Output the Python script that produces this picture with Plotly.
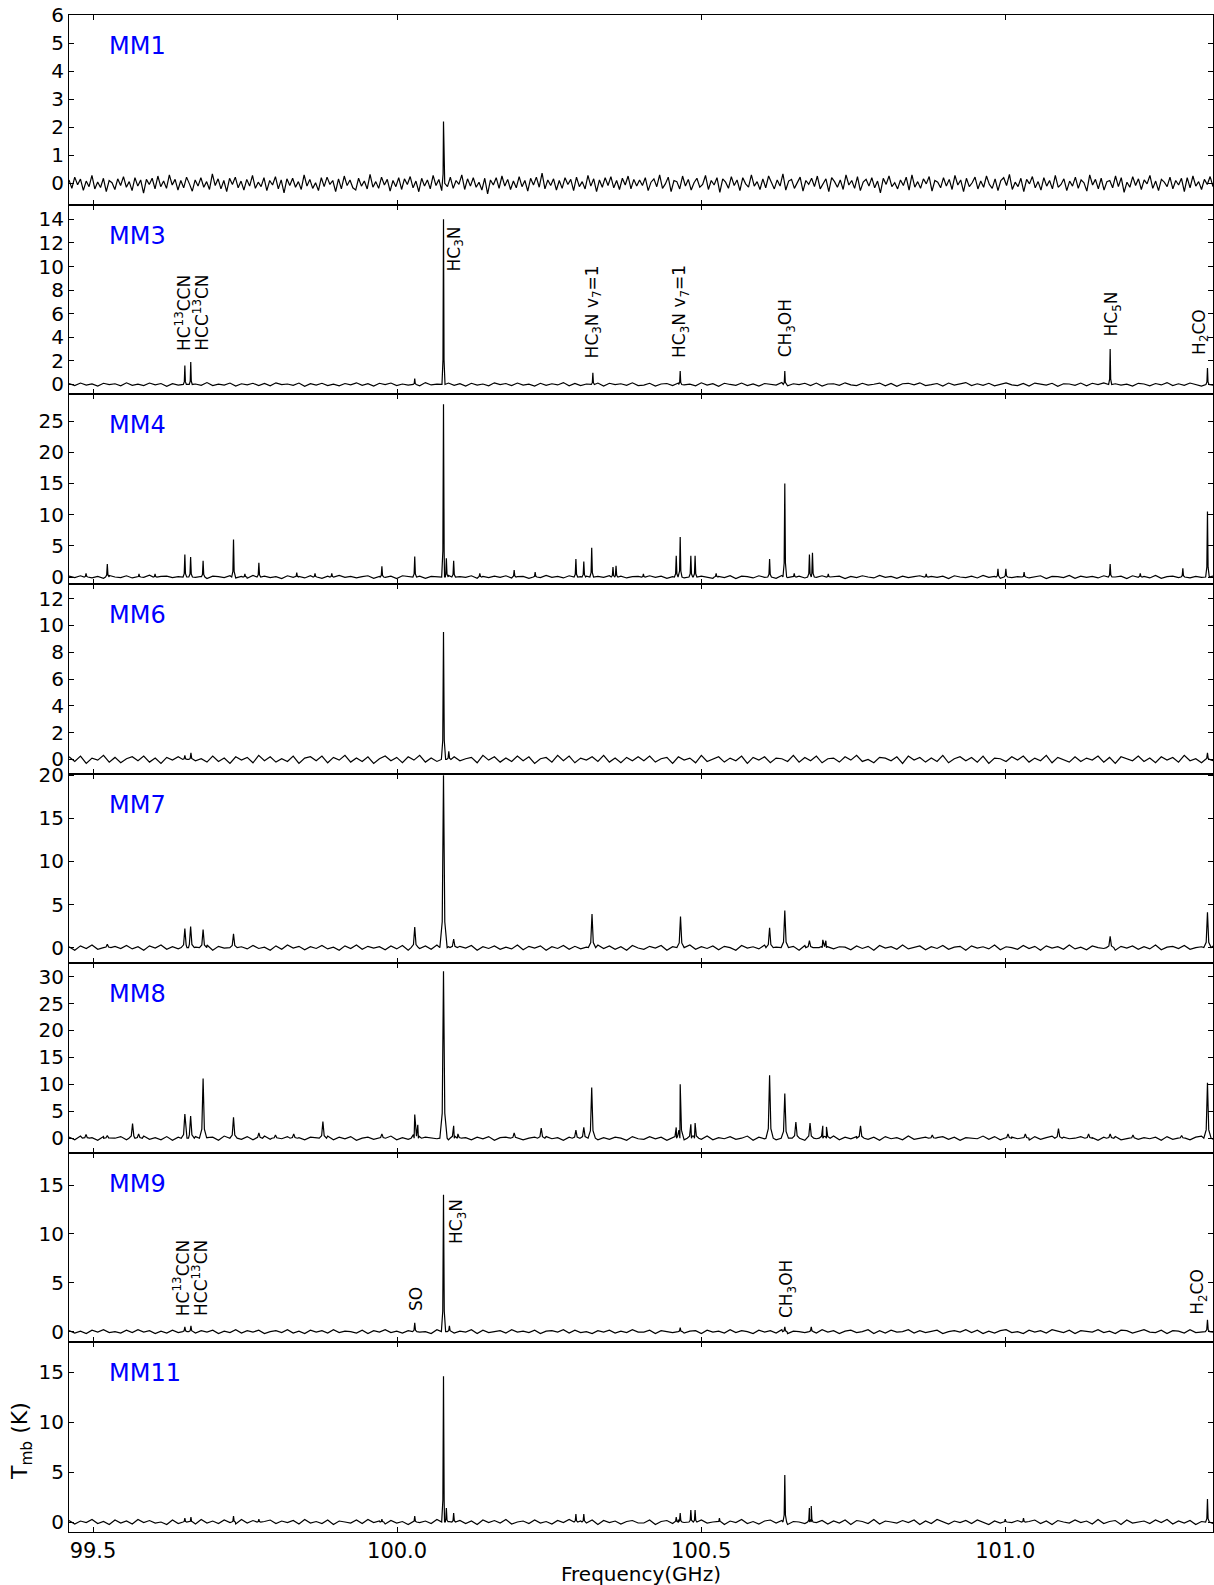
import numpy as np
import plotly.graph_objects as go
from plotly.subplots import make_subplots

# ---------------- data ----------------
X_MIN, X_MAX = 99.4605, 101.3416
X_TICKS = [99.5, 100.0, 100.5, 101.0]
X_TICK_TEXT = ["99.5", "100.0", "100.5", "101.0"]

SOURCES = ["MM1", "MM3", "MM4", "MM6", "MM7", "MM8", "MM9", "MM11"]

Y_RANGES = {
    "MM1": [-0.76, 6.0], "MM3": [-0.83, 15.25], "MM4": [-1.1, 29.3],
    "MM6": [-1.05, 13.1], "MM7": [-1.8, 20.2], "MM8": [-2.7, 32.5],
    "MM9": [-1.1, 18.3], "MM11": [-1.0, 18.0],
}
Y_TICKS = {
    "MM1": [0, 1, 2, 3, 4, 5, 6], "MM3": [0, 2, 4, 6, 8, 10, 12, 14],
    "MM4": [0, 5, 10, 15, 20, 25], "MM6": [0, 2, 4, 6, 8, 10, 12],
    "MM7": [0, 5, 10, 15, 20], "MM8": [0, 5, 10, 15, 20, 25, 30],
    "MM9": [0, 5, 10, 15], "MM11": [0, 5, 10, 15],
}
# half width of line profile at base (GHz)
LINE_HALF_WIDTH = {"MM1": 0.002, "MM3": 0.0025, "MM4": 0.003, "MM6": 0.0035,
                   "MM7": 0.006, "MM8": 0.006, "MM9": 0.0035, "MM11": 0.003}
# shape of a line profile: offsets (in half widths) and fraction of peak
PROFILE_DX = [-1.0, -0.35, 0.0, 0.35, 1.0]
PROFILE_FRAC = [0.0, 0.15, 1.0, 0.15, 0.0]

# peaks: (frequency GHz, T_mb K)
PEAKS_MM1 = [(100.0763, 2.2)]
PEAKS_MM3 = [(99.651, 1.6), (99.6607, 1.9), (100.029, 0.5), (100.0763, 14.0),
             (100.3219, 1.0), (100.4655, 1.15), (100.6375, 1.15), (101.1725, 3.0),
             (101.3325, 1.4)]
PEAKS_MM4 = [(99.4885, 0.6), (99.5235, 2.1), (99.5756, 0.5), (99.602, 0.5), (99.651, 3.6),
             (99.6605, 3.2), (99.681, 2.6), (99.731, 6.0), (99.7497, 0.5), (99.7727, 2.3),
             (99.835, 0.7), (99.865, 0.6), (99.8926, 0.6), (99.975, 1.7), (100.029, 3.3),
             (100.0763, 27.7), (100.081, 3.0), (100.093, 2.6), (100.136, 0.6), (100.1925, 1.1),
             (100.227, 0.8), (100.294, 2.9), (100.307, 2.5), (100.320, 4.7), (100.355, 1.6),
             (100.360, 1.8), (100.405, 0.5), (100.459, 3.4), (100.4655, 6.4), (100.483, 3.4),
             (100.490, 3.4), (100.5246, 0.6), (100.6125, 2.9), (100.6375, 15.0), (100.653, 0.6),
             (100.678, 3.6), (100.683, 3.9), (100.709, 0.5), (100.87, 0.5), (100.988, 1.3),
             (101.001, 1.3), (101.031, 0.8), (101.1725, 2.1), (101.222, 0.6), (101.292, 1.4),
             (101.3325, 10.5)]
PEAKS_MM6 = [(99.651, 0.3), (99.661, 0.5), (100.0763, 9.5), (100.085, 0.6), (101.3325, 0.5)]
PEAKS_MM7 = [(99.5235, 0.4), (99.651, 2.2), (99.6605, 2.45), (99.681, 2.1), (99.731, 1.6),
             (100.029, 2.4), (100.0763, 20.0), (100.093, 1.0), (100.3205, 3.9), (100.466, 3.6),
             (100.6125, 2.3), (100.6375, 4.3), (100.678, 0.8), (100.700, 0.9), (100.705, 0.8),
             (101.1725, 1.3), (101.3325, 4.1)]
PEAKS_MM8 = [(99.4885, 0.7), (99.5235, 0.5), (99.565, 2.7), (99.575, 0.8), (99.651, 4.5),
             (99.6605, 4.1), (99.681, 11.1), (99.731, 3.9), (99.7727, 1.0), (99.80, 0.6),
             (99.83, 0.8), (99.878, 3.1), (99.975, 0.8), (100.029, 4.4), (100.034, 2.5),
             (100.0763, 31.0), (100.093, 2.3), (100.10, 0.8), (100.1925, 1.0), (100.237, 1.9),
             (100.294, 1.5), (100.307, 2.0), (100.320, 9.4), (100.459, 2.0), (100.4655, 10.0),
             (100.483, 2.6), (100.490, 2.8), (100.6125, 11.7), (100.6375, 8.3), (100.6557, 3.0),
             (100.679, 2.8), (100.700, 2.3), (100.706, 2.1), (100.762, 2.3), (100.88, 0.6),
             (101.0045, 0.8), (101.033, 0.8), (101.0875, 1.8), (101.137, 0.8), (101.1725, 0.8),
             (101.21, 0.6), (101.29, 0.5), (101.3325, 10.3)]
PEAKS_MM9 = [(99.651, 0.5), (99.661, 0.6), (100.029, 0.9), (100.0763, 14.0), (100.086, 0.6),
             (100.4655, 0.4), (100.6375, 0.5), (100.681, 0.5), (101.3325, 1.2)]
PEAKS_MM11 = [(99.651, 0.4), (99.661, 0.5), (99.731, 0.6), (99.7727, 0.3), (99.975, 0.3),
              (100.029, 0.6), (100.0763, 14.6), (100.081, 1.4), (100.093, 0.9), (100.294, 0.8),
              (100.307, 0.8), (100.459, 0.5), (100.4655, 0.9), (100.483, 1.2), (100.490, 1.2),
              (100.53, 0.4), (100.6375, 4.7), (100.678, 1.4), (100.681, 1.6), (101.0, 0.3),
              (101.03, 0.4), (101.3325, 2.3)]

# baseline (noise) samples read across the band, evenly spaced from X_MIN to X_MAX
NOISE_MM1 = [0.12,-0.18,0.22,-0.05,0.15,-0.25,0.08,-0.12,0.28,-0.2,
             0.05,-0.15,0.18,-0.3,0.1,0.02,-0.22,0.16,-0.08,0.24,
             -0.14,0.06,-0.26,0.2,-0.1,0.12,-0.35,0.14,-0.04,0.18,
             -0.2,0.26,-0.12,0.08,-0.18,0.3,-0.06,0.14,-0.24,0.1,
             -0.16,0.22,-0.02,-0.28,0.12,-0.1,0.2,-0.14,0.06,-0.22,
             0.34,-0.08,0.16,-0.2,0.1,-0.3,0.18,-0.04,0.22,-0.16,
             0.08,-0.24,0.14,-0.1,0.28,-0.18,0.04,-0.12,0.2,-0.26,
             0.1,-0.06,0.24,-0.2,0.12,-0.34,0.16,-0.08,0.18,-0.14,
             0.06,-0.22,0.3,-0.1,0.14,-0.18,0.02,-0.26,0.2,-0.12,
             0.22,-0.04,0.1,-0.3,0.16,-0.2,0.26,-0.08,0.12,-0.16,
             -0.24,0.18,-0.1,0.08,-0.2,0.32,-0.14,0.06,-0.18,0.22,
             -0.06,0.14,-0.28,0.1,-0.12,0.2,-0.22,0.16,-0.04,0.24,
             -0.16,0.08,-0.3,0.18,-0.1,0.12,-0.2,0.28,-0.08,0.14,
             -0.26,0.06,-0.12,0.22,-0.18,0.1,-0.04,0.3,-0.22,0.16,
             -0.1,0.2,-0.14,0.04,-0.24,0.18,-0.38,0.12,-0.06,0.2,
             -0.18,0.26,-0.1,0.14,-0.22,0.08,-0.16,0.24,-0.12,0.1,
             -0.28,0.18,-0.06,0.22,-0.14,0.36,-0.2,0.12,-0.08,0.16,
             -0.24,0.1,-0.18,0.2,-0.04,0.14,-0.26,0.22,-0.12,0.06,
             -0.2,0.28,-0.1,0.16,-0.3,0.12,-0.14,0.2,-0.08,0.24,
             -0.16,0.1,-0.22,0.18,-0.06,0.26,-0.2,0.14,-0.1,0.12,
             -0.08,0.2,-0.26,0.04,0.16,-0.12,0.3,-0.18,-0.02,0.22,
             -0.3,0.1,0.06,-0.2,0.26,-0.1,0.14,-0.24,0.02,0.18,
             -0.14,-0.04,0.28,-0.22,0.1,-0.06,0.2,-0.32,0.16,0.04,
             -0.18,0.24,-0.08,0.12,-0.26,0.2,-0.02,-0.14,0.3,-0.1,
             0.06,-0.22,0.16,-0.16,0.26,0.0,-0.2,0.12,-0.1,0.34,
             -0.24,0.08,0.14,-0.18,0.02,0.22,-0.28,0.1,-0.04,0.18,
             -0.12,0.26,-0.2,-0.02,0.16,-0.3,0.2,0.06,-0.14,0.12,
             -0.22,0.3,-0.06,0.1,-0.18,0.24,-0.26,0.04,0.14,-0.1,
             0.2,-0.16,0.08,-0.34,0.18,-0.04,0.26,-0.12,0.02,-0.2,
             0.12,-0.08,0.22,-0.24,0.3,-0.14,0.06,-0.18,0.16,-0.02,
             0.24,-0.28,0.1,0.04,-0.16,0.2,-0.1,0.14,-0.22,0.28,
             -0.06,0.12,-0.3,0.18,-0.12,0.02,0.22,-0.2,0.08,-0.14,
             0.26,-0.04,-0.18,0.16,-0.26,0.1,0.2,-0.08,0.32,-0.22,
             0.04,-0.12,0.18,-0.3,0.14,-0.02,0.24,-0.16,0.06,-0.24,
             0.2,-0.1,0.1,-0.2,0.28,-0.14,-0.04,0.16,-0.26,0.08,
             -0.1,0.22,-0.18,0.12,0.02,-0.28,0.3,-0.06,0.14,-0.2,
             0.18,-0.24,0.06,0.1,-0.16,0.26,-0.12,0.2,-0.32,0.04,
             -0.14,0.24,-0.08,0.16,-0.22,0.12,-0.02,0.28,-0.18,0.08,
             -0.26,0.14,0.04,-0.12,0.22,-0.2,0.1,-0.06,0.18,-0.3,
             0.2,-0.16,0.26,-0.1,0.06,-0.22,0.14,-0.04,0.24,-0.12]
NOISE_MM3 = [0.08,-0.1,0.12,-0.06,0.04,-0.14,0.1,-0.02,0.06,-0.12,
             0.14,-0.08,0.02,-0.1,0.12,-0.04,0.08,-0.16,0.06,-0.06,
             0.1,-0.12,0.04,-0.08,0.16,-0.1,0.02,-0.06,0.12,-0.14,
             0.06,-0.04,0.1,-0.1,0.08,-0.12,0.14,-0.02,0.04,-0.08,
             0.12,-0.16,0.06,-0.06,0.1,-0.1,0.02,-0.12,0.08,-0.04,
             0.14,-0.08,0.06,-0.14,0.1,-0.02,0.12,-0.1,0.04,-0.06,
             0.08,-0.12,0.16,-0.04,0.02,-0.1,0.12,-0.08,0.06,-0.14,
             0.1,-0.06,0.04,-0.12,0.14,-0.02,0.08,-0.1,0.12,-0.06,
             0.02,-0.14,0.1,-0.08,0.06,-0.04,0.16,-0.12,0.08,-0.1,
             0.04,-0.06,0.12,-0.14,0.1,-0.02,0.06,-0.08,0.14,-0.1,
             -0.06,0.1,-0.14,0.04,0.08,-0.1,0.12,-0.04,0.02,-0.12,
             0.14,-0.06,0.06,-0.16,0.1,0.0,-0.08,0.12,-0.1,0.04,
             -0.14,0.08,0.02,-0.06,0.16,-0.12,0.06,-0.02,0.1,-0.1,
             0.12,-0.14,0.04,0.06,-0.08,0.14,-0.04,-0.1,0.1,-0.06,
             0.02,0.12,-0.12,0.08,-0.16,0.06,0.1,-0.04,0.14,-0.1,
             -0.02,0.08,-0.14,0.12,-0.06,0.04,0.16,-0.1,0.06,-0.08,
             0.1,-0.12,0.02,0.14,-0.04,-0.1,0.08,-0.14,0.12,0.0,
             -0.06,0.1,-0.16,0.06,0.04,-0.08,0.12,-0.12,0.1,-0.02,
             0.14,-0.1,0.06,-0.06,0.02,-0.14,0.1,0.04,-0.12,0.08,
             -0.04,0.16,-0.1,0.06,-0.08,0.12,-0.02,-0.14,0.1,-0.06]
NOISE_MM4 = [0.15,-0.1,0.2,0.05,-0.15,0.1,-0.2,0.25,0.0,-0.1,
             0.2,-0.15,0.1,-0.05,0.3,-0.2,0.1,0.15,-0.1,0.05,
             -0.2,0.2,-0.05,0.1,-0.25,0.15,0.05,-0.1,0.2,-0.15,
             0.1,-0.2,0.25,-0.05,0.15,-0.1,0.05,-0.25,0.2,-0.05,
             0.1,-0.15,0.2,0.0,-0.2,0.15,-0.1,0.25,-0.05,0.1,
             -0.15,0.05,0.2,-0.2,0.1,-0.05,0.15,-0.25,0.2,0.05,
             -0.1,0.15,-0.2,0.1,0.0,-0.15,0.25,-0.1,0.05,-0.05,
             0.2,-0.2,0.1,-0.1,0.15,-0.05,0.2,-0.15,0.05,0.1,
             -0.2,0.15,-0.1,0.25,-0.05,0.1,-0.15,0.2,-0.1,0.05,
             0.15,-0.2,0.1,-0.05,0.2,-0.1,0.15,-0.15,0.05,0.1,
             -0.1,0.2,-0.05,0.15,-0.2,0.05,0.25,-0.15,0.1,-0.05,
             0.15,0.0,-0.2,0.1,-0.1,0.2,-0.25,0.15,0.05,-0.15,
             0.2,-0.05,0.1,-0.2,0.25,-0.1,0.0,0.15,-0.15,0.1,
             -0.05,0.2,-0.2,0.05,0.15,-0.25,0.1,-0.1,0.2,0.0,
             -0.15,0.25,-0.05,0.1,-0.2,0.15,-0.1,0.05,0.2,-0.2,
             0.1,-0.05,0.15,-0.25,0.2,0.0,-0.1,0.15,-0.15,0.25,
             -0.05,0.1,-0.2,0.2,-0.1,0.05,0.15,-0.15,0.0,0.2,
             -0.25,0.1,0.05,-0.1,0.25,-0.2,0.15,-0.05,0.1,-0.15,
             0.2,-0.1,0.0,0.15,-0.25,0.2,-0.05,0.1,-0.15,0.25,
             -0.2,0.05,0.15,-0.1,0.2,-0.15,0.1,-0.05,0.0,0.15]
NOISE_MM6 = [0.2,-0.15,0.25,-0.3,0.1,-0.05,0.3,-0.2,0.15,-0.25,
             0.05,0.2,-0.1,0.25,-0.2,0.1,-0.3,0.15,-0.05,0.2,
             -0.25,0.3,-0.1,0.05,-0.2,0.25,-0.15,0.1,-0.3,0.2,
             -0.05,0.15,-0.25,0.3,-0.1,0.2,-0.2,0.05,-0.15,0.25,
             -0.3,0.1,0.2,-0.1,0.25,-0.25,0.15,-0.05,0.3,-0.2,
             0.1,-0.15,0.2,-0.3,0.05,0.25,-0.1,0.15,-0.25,0.2,
             -0.05,0.3,-0.2,0.1,-0.15,0.25,-0.3,0.2,-0.1,0.05,
             0.15,-0.25,0.3,-0.05,0.2,-0.2,0.1,-0.15,0.25,-0.1,
             0.2,-0.3,0.05,0.15,-0.2,0.3,-0.1,0.25,-0.25,0.1,
             -0.05,0.2,-0.15,0.3,-0.2,0.1,-0.25,0.15,-0.1,0.2,
             -0.1,0.25,-0.2,0.05,0.15,-0.3,0.2,-0.05,0.1,-0.25,
             0.3,-0.15,0.0,0.2,-0.2,0.1,-0.1,0.25,-0.3,0.15,
             -0.05,0.2,-0.25,0.1,0.05,-0.15,0.3,-0.2,0.15,-0.1,
             0.25,-0.25,0.05,0.1,-0.2,0.2,-0.05,0.3,-0.15,0.0,
             -0.25,0.15,0.1,-0.1,0.2,-0.3,0.25,-0.05,0.15,-0.2,
             0.1,-0.15,0.3,-0.25,0.05,0.2,-0.1,0.15,-0.2,0.25,
             -0.3,0.1,0.05,-0.15,0.2,-0.05,0.25,-0.2,0.1,-0.1,
             0.3,-0.25,0.15,0.0,-0.2,0.2,-0.15,0.1,-0.05,0.25,
             -0.2,0.15,-0.3,0.2,0.05,-0.1,0.25,-0.15,0.1,-0.25,
             0.2,-0.05,0.15,-0.2,0.3,-0.1,0.05,-0.25,0.2,-0.1]
NOISE_MM7 = [0.1,-0.3,0.2,-0.1,0.3,-0.2,0.0,-0.25,0.15,-0.1,
             0.25,-0.15,0.1,-0.3,0.2,-0.05,0.3,-0.2,0.1,-0.15,
             0.2,-0.25,0.05,-0.1,0.3,-0.3,0.15,-0.05,0.2,-0.2,
             0.1,-0.15,0.25,-0.1,0.05,-0.3,0.2,-0.2,0.3,-0.05,
             0.15,-0.25,0.1,-0.1,0.25,-0.15,0.05,-0.3,0.2,-0.1,
             0.3,-0.2,0.15,-0.05,0.1,-0.25,0.2,-0.15,0.25,-0.3,
             0.05,-0.1,0.2,-0.2,0.3,-0.15,0.1,-0.25,0.15,-0.05,
             0.25,-0.3,0.1,-0.1,0.2,-0.2,0.05,-0.15,0.3,-0.25,
             0.15,-0.05,0.2,-0.3,0.1,-0.1,0.25,-0.2,0.15,-0.15,
             0.05,-0.25,0.3,-0.1,0.2,-0.2,0.1,-0.3,0.25,-0.05,
             -0.2,0.15,-0.05,0.25,-0.3,0.1,0.05,-0.15,0.3,-0.2,
             0.1,-0.1,0.2,-0.25,0.15,0.0,-0.3,0.25,-0.05,0.1,
             -0.15,0.3,-0.2,0.05,0.2,-0.1,0.15,-0.3,0.25,-0.05,
             0.0,-0.2,0.3,-0.15,0.1,0.05,-0.25,0.2,-0.1,0.15,
             -0.3,0.25,-0.05,0.1,-0.2,0.3,-0.15,0.0,0.2,-0.25,
             0.1,-0.1,0.25,-0.2,0.05,0.15,-0.3,0.2,-0.05,0.1,
             -0.15,0.3,-0.25,0.1,0.0,-0.2,0.25,-0.1,0.15,-0.3,
             0.2,-0.05,0.1,-0.2,0.3,-0.15,0.05,-0.25,0.2,0.0,
             -0.1,0.25,-0.3,0.15,-0.05,0.2,-0.2,0.1,-0.15,0.3,
             -0.25,0.05,0.15,-0.1,0.25,-0.2,0.0,0.1,-0.3,0.2]
NOISE_MM8 = [0.2,-0.3,0.4,-0.1,0.1,-0.4,0.3,-0.2,0.0,0.3,
             -0.3,0.2,-0.1,0.4,-0.2,0.1,-0.3,0.3,-0.4,0.2,
             0.0,-0.2,0.3,-0.3,0.1,0.2,-0.4,0.4,-0.1,0.1,
             -0.2,0.3,-0.3,0.0,0.4,-0.2,0.2,-0.1,0.3,-0.4,
             0.1,-0.3,0.2,0.1,-0.2,0.4,-0.3,0.2,-0.1,0.3,
             -0.4,0.0,0.2,-0.2,0.3,-0.1,0.4,-0.3,0.1,-0.2,
             0.3,-0.4,0.2,0.0,-0.1,0.3,-0.3,0.4,-0.2,0.1,
             -0.3,0.2,-0.1,0.3,-0.4,0.1,0.2,-0.2,0.4,-0.3,
             0.0,0.2,-0.3,0.3,-0.1,0.1,-0.4,0.2,-0.2,0.4,
             -0.1,0.3,-0.3,0.1,-0.2,0.2,0.0,-0.4,0.3,-0.1,
             -0.2,0.3,-0.1,0.2,-0.4,0.1,0.3,-0.3,0.0,0.2,
             -0.2,0.4,-0.3,0.1,-0.1,0.3,-0.2,0.0,0.4,-0.4,
             0.2,-0.1,0.1,-0.3,0.3,-0.2,0.2,0.0,-0.4,0.3,
             -0.1,0.1,-0.2,0.4,-0.3,0.2,-0.1,0.3,0.0,-0.2,
             0.2,-0.4,0.3,-0.1,0.1,-0.3,0.4,-0.2,0.0,0.2,
             -0.3,0.1,0.3,-0.2,0.2,-0.4,0.1,0.0,-0.1,0.4,
             -0.2,0.3,-0.3,0.1,0.2,-0.1,0.0,-0.4,0.3,-0.2,
             0.1,0.4,-0.3,0.2,-0.1,0.0,0.3,-0.2,0.1,-0.4,
             0.2,-0.1,0.3,-0.3,0.0,0.4,-0.2,0.1,-0.1,0.2,
             -0.4,0.3,-0.2,0.1,0.0,-0.3,0.2,0.4,-0.1,-0.2]
NOISE_MM9 = [0.1,-0.15,0.05,-0.2,0.15,-0.05,0.2,-0.1,0.0,-0.15,
             0.15,-0.1,0.2,-0.05,0.1,-0.2,0.05,-0.15,0.15,-0.1,
             0.0,0.2,-0.15,0.1,-0.05,0.15,-0.2,0.05,-0.1,0.2,
             -0.15,0.1,-0.05,0.15,-0.2,0.0,0.1,-0.1,0.2,-0.15,
             0.05,-0.2,0.15,-0.05,0.1,-0.15,0.2,-0.1,0.05,0.0,
             -0.15,0.15,-0.2,0.1,-0.05,0.2,-0.1,0.05,-0.15,0.1,
             0.15,-0.05,0.0,-0.2,0.2,-0.1,0.1,-0.15,0.05,-0.05,
             0.2,-0.2,0.15,-0.1,0.0,0.1,-0.15,0.2,-0.05,0.05,
             -0.1,0.15,-0.2,0.05,0.1,-0.05,0.2,-0.15,0.15,-0.1,
             0.0,-0.2,0.1,-0.05,0.15,-0.15,0.05,-0.1,0.2,-0.05,
             -0.05,0.15,-0.2,0.1,0.0,-0.1,0.2,-0.15,0.05,0.1,
             -0.2,0.15,-0.05,0.05,-0.15,0.2,-0.1,0.1,0.0,-0.2,
             0.15,-0.05,0.1,-0.15,0.2,-0.2,0.05,0.0,-0.1,0.15,
             -0.15,0.2,-0.05,0.1,-0.2,0.05,0.15,-0.1,0.0,0.2,
             -0.2,0.1,-0.15,0.15,-0.05,0.0,0.2,-0.15,0.1,-0.1,
             0.05,0.15,-0.2,0.0,0.1,-0.05,0.2,-0.1,0.15,-0.2,
             0.05,-0.15,0.1,0.2,-0.1,0.0,-0.2,0.15,-0.05,0.1,
             -0.15,0.2,0.05,-0.1,0.15,-0.2,0.1,0.0,-0.05,0.2,
             -0.1,0.05,-0.2,0.15,0.1,-0.15,0.0,0.2,-0.05,-0.1,
             0.15,-0.2,0.1,0.05,-0.15,0.2,-0.1,0.0,0.1,-0.05]
NOISE_MM11 = [0.15,-0.2,0.1,-0.05,0.25,-0.15,0.05,-0.25,0.2,-0.1,
              0.1,-0.2,0.25,-0.05,0.15,-0.1,0.0,-0.25,0.2,-0.15,
              0.05,0.15,-0.2,0.25,-0.1,0.1,-0.15,0.2,-0.05,-0.2,
              0.25,-0.1,0.15,-0.25,0.05,0.2,-0.15,0.1,-0.05,0.15,
              -0.2,0.25,-0.1,0.05,-0.15,0.2,-0.25,0.1,0.0,-0.1,
              0.2,-0.15,0.25,-0.05,0.1,-0.2,0.15,-0.1,0.05,-0.25,
              0.2,-0.05,0.1,-0.15,0.25,-0.2,0.05,-0.1,0.15,-0.15,
              0.1,-0.25,0.2,-0.05,0.15,-0.1,0.25,-0.2,0.0,0.1,
              -0.15,0.2,-0.1,0.05,-0.2,0.15,-0.05,0.25,-0.15,0.1,
              -0.1,0.2,-0.25,0.15,-0.05,0.1,-0.2,0.05,0.15,-0.1,
              -0.1,0.2,-0.25,0.05,0.15,-0.15,0.25,-0.05,0.1,-0.2,
              0.2,-0.1,0.0,0.15,-0.25,0.1,-0.05,0.25,-0.15,0.05,
              -0.2,0.1,0.2,-0.1,0.15,-0.25,0.05,0.0,-0.15,0.25,
              -0.05,0.15,-0.2,0.1,-0.1,0.2,-0.25,0.15,0.05,-0.15,
              0.25,-0.2,0.1,0.0,-0.1,0.15,-0.05,0.2,-0.25,0.1,
              -0.15,0.25,0.05,-0.2,0.1,-0.05,0.15,-0.15,0.2,0.0,
              -0.25,0.1,-0.1,0.25,-0.05,0.15,-0.2,0.05,0.2,-0.15,
              0.1,-0.25,0.15,0.0,-0.1,0.2,-0.05,0.1,-0.2,0.25,
              -0.15,0.05,0.15,-0.25,0.2,-0.1,0.0,0.1,-0.15,0.2,
              -0.05,0.25,-0.2,0.1,-0.1,0.15,-0.25,0.05,0.2,-0.15]

PEAKS = {"MM1": PEAKS_MM1, "MM3": PEAKS_MM3, "MM4": PEAKS_MM4, "MM6": PEAKS_MM6,
         "MM7": PEAKS_MM7, "MM8": PEAKS_MM8, "MM9": PEAKS_MM9, "MM11": PEAKS_MM11}
NOISE = {"MM1": NOISE_MM1, "MM3": NOISE_MM3, "MM4": NOISE_MM4, "MM6": NOISE_MM6,
         "MM7": NOISE_MM7, "MM8": NOISE_MM8, "MM9": NOISE_MM9, "MM11": NOISE_MM11}

# line identifications: (frequency of label, T_mb at label bottom, text)
LABELS_MM3 = [(99.648, 2.75, "HC<sup>13</sup>CCN"), (99.677, 2.75, "HCC<sup>13</sup>CN"),
              (100.096, 9.5, "HC<sub>3</sub>N"),
              (100.323, 2.13, "HC<sub>3</sub>N v<sub>7</sub>=1"),
              (100.467, 2.13, "HC<sub>3</sub>N v<sub>7</sub>=1"),
              (100.640, 2.24, "CH<sub>3</sub>OH"), (101.176, 3.97, "HC<sub>5</sub>N"),
              (101.320, 2.41, "H<sub>2</sub>CO")]
LABELS_MM9 = [(99.646, 1.46, "HC<sup>13</sup>CCN"), (99.677, 1.46, "HCC<sup>13</sup>CN"),
              (100.032, 1.97, "SO"), (100.0996, 8.88, "HC<sub>3</sub>N"),
              (100.643, 1.3, "CH<sub>3</sub>OH"), (101.3187, 1.63, "H<sub>2</sub>CO")]
LABELS = {"MM3": LABELS_MM3, "MM9": LABELS_MM9}

# ---------------- figure ----------------
FONT = "DejaVu Sans"
N = len(SOURCES)
fig = make_subplots(rows=N, cols=1, shared_xaxes=True, vertical_spacing=0)


def spectrum(noise, peaks, w):
    grid = np.linspace(X_MIN, X_MAX, len(noise))
    pts = []
    for f, v in zip(grid, noise):
        if all(abs(f - pf) > w for pf, _ in peaks):
            pts.append((f, v))
    for pf, ph in peaks:
        for dx, fr in zip(PROFILE_DX, PROFILE_FRAC):
            pts.append((pf + dx * w, ph * fr))
    pts.sort(key=lambda p: p[0])
    return [p[0] for p in pts], [p[1] for p in pts]


annotations = []
for i, src in enumerate(SOURCES):
    row = i + 1
    xs, ys = spectrum(NOISE[src], PEAKS[src], LINE_HALF_WIDTH[src])
    fig.add_trace(go.Scatter(x=xs, y=ys, mode="lines",
                             line=dict(color="black", width=1.2), showlegend=False,
                             hoverinfo="skip"), row=row, col=1)
    fig.update_yaxes(range=Y_RANGES[src], tickvals=Y_TICKS[src], row=row, col=1)
    yname = "y" if row == 1 else f"y{row}"
    xname = "x" if row == 1 else f"x{row}"
    annotations.append(dict(text=src, xref="paper", yref=f"{yname} domain",
                            x=(107 - 69) / 1143.7, y=1 - 31 / 189.6,
                            xanchor="left", yanchor="middle", showarrow=False,
                            font=dict(family=FONT, size=24, color="#0000ff")))
    for f, yb, txt in LABELS.get(src, []):
        annotations.append(dict(text=txt, x=f, y=yb, xref=xname, yref=yname,
                                textangle=-90, xanchor="center", yanchor="bottom",
                                showarrow=False, borderpad=0,
                                font=dict(family=FONT, size=17, color="black")))

annotations.append(dict(text="Frequency(GHz)", xref="paper", yref="paper",
                        x=0.5, y=-0.028, xanchor="center", yanchor="middle",
                        showarrow=False, font=dict(family=FONT, size=20, color="black")))
annotations.append(dict(text="T<sub>mb</sub> (K)", xref="paper", yref="paper",
                        x=-0.041, y=0.06, xanchor="center", yanchor="middle",
                        textangle=-90, showarrow=False,
                        font=dict(family=FONT, size=22, color="black")))

fig.update_xaxes(range=[X_MIN, X_MAX], tickvals=X_TICKS, ticktext=X_TICK_TEXT,
                 ticks="inside", ticklen=5, tickwidth=1, tickcolor="black",
                 showline=True, linecolor="black", linewidth=1, mirror="ticks",
                 showgrid=False, zeroline=False,
                 tickfont=dict(family=FONT, size=21, color="black"))
fig.update_yaxes(ticks="inside", ticklen=5, tickwidth=1, tickcolor="black",
                 showline=True, linecolor="black", linewidth=1, mirror="ticks",
                 showgrid=False, zeroline=False, ticklabelstandoff=0,
                 tickfont=dict(family=FONT, size=20, color="black"))

fig.update_layout(width=1214, height=1585,
                  margin=dict(l=69, r=1, t=15, b=53),
                  paper_bgcolor="white", plot_bgcolor="white",
                  annotations=annotations, showlegend=False)

fig.write_html("out.html")
